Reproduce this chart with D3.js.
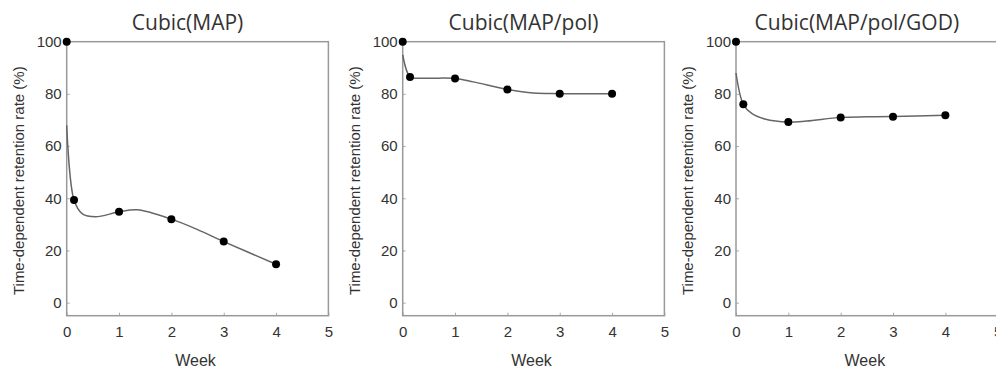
<!DOCTYPE html>
<html>
<head>
<meta charset="utf-8">
<script src="https://cdn.jsdelivr.net/npm/d3@7"></script>
<style>
  body { margin: 0; background: #fff; }
  text { font-family: "Liberation Sans", Arial, sans-serif; fill: #333; }
  .title { font-family: "Open Sans", sans-serif; }
</style>
</head>
<body>
<svg class="chart"></svg>
<script>
// measured points (week, retention %)
var weeks = [0, 0.14, 1, 2, 3, 4];
var mapVals = [100, 39.3, 34.8, 32, 23.4, 14.7];
var polVals = [100, 86.5, 85.9, 81.7, 80.1, 80.1];
var godVals = [100, 76, 69.2, 71, 71.2, 71.8];

// fitted cubic curve
var fitWeeks = [0, 0.14, 0.3, 0.55, 1, 1.35, 2, 2.5, 3, 4];
var mapFit = [68, 39.3, 34, 32.9, 34.8, 35.6, 32, 28, 23.4, 14.7];
var polFit = [95, 86.5, 86, 86, 85.9, 84.6, 81.7, 80.3, 80.1, 80.1];
var godFit = [88, 76, 72.5, 70.4, 69.2, 69.6, 71, 71.2, 71.3, 71.8];

var titles = ["Cubic(MAP)", "Cubic(MAP/pol)", "Cubic(MAP/pol/GOD)"];
var xTicks = [0, 1, 2, 3, 4, 5];
var yTicks = [0, 20, 40, 60, 80, 100];

var panels = [
  { title: titles[0], vals: mapVals, fit: mapFit },
  { title: titles[1], vals: polVals, fit: polFit },
  { title: titles[2], vals: godVals, fit: godFit }
];

var svgWidth = 996, svgHeight = 373;
var svg = d3.select(".chart").attr("width", svgWidth).attr("height", svgHeight);

var plotW = 261.7, plotH = 274;
var lefts = [66.7, 402.7, 736];
var plotTop = 41.7;

var x = d3.scaleLinear().domain([0, 5]).range([0, plotW]);
var y = d3.scaleLinear().domain([-5, 100]).range([plotH, 0]);

var line = d3.line()
  .x(function(d) { return x(d[0]); })
  .y(function(d) { return y(d[1]); })
  .curve(d3.curveCatmullRom.alpha(0.5));

panels.forEach(function(p, i) {
  var g = svg.append("g").attr("transform", "translate(" + lefts[i] + "," + plotTop + ")");

  // x axis, ticks pointing in
  var xa = g.append("g")
    .attr("transform", "translate(0," + plotH + ")")
    .call(d3.axisBottom(x).tickValues(xTicks).tickSize(-3).tickPadding(11).tickFormat(d3.format("d")));
  xa.select(".domain").remove();
  xa.selectAll("line").attr("stroke", "#aaa");
  xa.selectAll("text").style("font-size", "15px").attr("fill", "#333");

  // y axis
  var ya = g.append("g")
    .call(d3.axisLeft(y).tickValues(yTicks).tickSize(-3).tickPadding(5));
  ya.select(".domain").remove();
  ya.selectAll("line").attr("stroke", "#aaa");
  ya.selectAll("text").style("font-size", "15px").attr("fill", "#333");

  // frame
  g.append("rect")
    .attr("x", 0).attr("y", 0)
    .attr("width", plotW).attr("height", plotH)
    .attr("fill", "none")
    .attr("stroke", "#999")
    .attr("stroke-width", 1.5);

  // fitted curve
  g.append("path")
    .datum(fitWeeks.map(function(w, k) { return [w, p.fit[k]]; }))
    .attr("fill", "none")
    .attr("stroke", "#666")
    .attr("stroke-width", 1.5)
    .attr("d", line);

  // points
  g.selectAll("circle")
    .data(weeks.map(function(w, k) { return [w, p.vals[k]]; }))
    .enter().append("circle")
    .attr("cx", function(d) { return x(d[0]); })
    .attr("cy", function(d) { return y(d[1]); })
    .attr("r", 4)
    .attr("fill", "#000");

  // title
  g.append("text")
    .attr("class", "title")
    .attr("x", plotW / 2 - 10)
    .attr("y", -12)
    .style("text-anchor", "middle")
    .style("font-size", "21px")
    .text(p.title);

  // y label
  g.append("text")
    .attr("transform", "rotate(-90)")
    .attr("x", -(plotH / 2 + 2))
    .attr("y", -43)
    .style("text-anchor", "middle")
    .style("font-size", "15px")
    .text("Time-dependent retention rate (%)");

  // x label
  g.append("text")
    .attr("x", plotW / 2 - 2)
    .attr("y", plotH + 50)
    .style("text-anchor", "middle")
    .style("font-size", "16px")
    .text("Week");
});
</script>
</body>
</html>
